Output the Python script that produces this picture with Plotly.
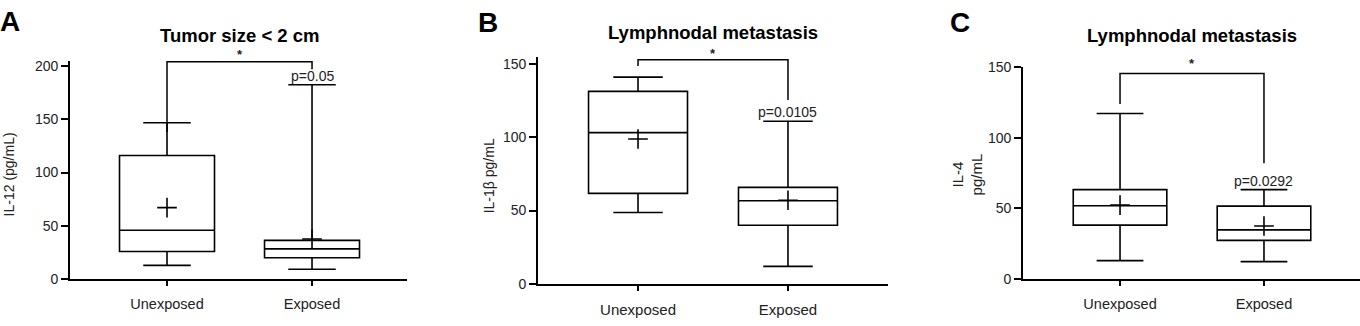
import plotly.graph_objects as go

categories = ["Unexposed", "Exposed"]

# Panel A: IL-12 (pg/mL), tumor size < 2 cm
a_q1 = [25.9, 19.9]
a_median = [45.8, 28.3]
a_q3 = [116.0, 36.3]
a_low = [12.8, 9.2]
a_high = [146.7, 182.4]
a_mean = [67.0, 37.5]
a_bracket = [138.0, 204.0, 197.0]  # left end, top, right end
a_p = "p=0.05"
a_ticks = [0, 50, 100, 150, 200]

# Panel B: IL-1β pg/mL, lymphnodal metastasis
b_q1 = [61.7, 40.0]
b_median = [103.2, 56.7]
b_q3 = [131.4, 65.8]
b_low = [48.7, 11.9]
b_high = [141.1, 111.0]
b_mean = [98.9, 57.0]
b_bracket = [148.7, 153.0, 125.5]
b_p = "p=0.0105"
b_ticks = [0, 50, 100, 150]

# Panel C: IL-4 pg/mL, lymphnodal metastasis
c_q1 = [38.2, 27.4]
c_median = [51.9, 34.8]
c_q3 = [63.3, 51.6]
c_low = [13.0, 12.3]
c_high = [117.2, 63.3]
c_mean = [52.3, 37.5]
c_bracket = [123.9, 145.5, 82.0]
c_p = "p=0.0292"
c_ticks = [0, 50, 100, 150]

W, H = 1360, 326
FONT = "Liberation Sans, Arial, sans-serif"
INK = "black"
GREY = "#222"

panels = [
    dict(name="A", title="Tumor size < 2 cm", ytitle="IL-12 (pg/mL)", ytfs=14, ytx=9, yty=175,
         q1=a_q1, med=a_median, q3=a_q3, lo=a_low, hi=a_high, mean=a_mean, br=a_bracket, p=a_p,
         ticks=a_ticks, yr=[0, 205], xd=[70, 407], yd=[285, 55.4], xr=[-0.669, 1.655], bw=0.655,
         lx=10, ly=14, tx=29, star=8, xfs=14.5),
    dict(name="B", title="Lymphnodal metastasis", ytitle="IL-1\u03b2 pg/mL", ytfs=14, ytx=489, yty=177,
         q1=b_q1, med=b_median, q3=b_q3, lo=b_low, hi=b_high, mean=b_mean, br=b_bracket, p=b_p,
         ticks=b_ticks, yr=[0, 155], xd=[538, 888], yd=[290, 51.3], xr=[-0.667, 1.667], bw=0.66,
         lx=488, ly=15, tx=26, star=7, xfs=15),
    dict(name="C", title="Lymphnodal metastasis", ytitle="IL-4<br>pg/mL", ytfs=15, ytx=967, yty=175,
         q1=c_q1, med=c_median, q3=c_q3, lo=c_low, hi=c_high, mean=c_mean, br=c_bracket, p=c_p,
         ticks=c_ticks, yr=[0, 150], xd=[1023, 1360], yd=[285, 62.3], xr=[-0.674, 1.667], bw=0.65,
         lx=960, ly=15, tx=29, star=11, xfs=14.5),
]

fig = go.Figure()
annotations = []
layout = {}

for i, pn in enumerate(panels):
    sfx = "" if i == 0 else str(i + 1)
    xa, ya = "x" + sfx, "y" + sfx
    fig.add_trace(go.Box(
        x=categories, q1=pn["q1"], median=pn["med"], q3=pn["q3"],
        lowerfence=pn["lo"], upperfence=pn["hi"],
        width=pn["bw"], whiskerwidth=0.5, fillcolor="white",
        line=dict(color=INK, width=1.6), boxpoints=False,
        xaxis=xa, yaxis=ya, showlegend=False, hoverinfo="skip"))
    fig.add_trace(go.Scatter(
        x=categories, y=pn["mean"], mode="markers",
        marker=dict(symbol="cross-thin-open", size=14, color=INK, line=dict(color=INK, width=1.6)),
        xaxis=xa, yaxis=ya, showlegend=False, hoverinfo="skip"))
    br = pn["br"]
    fig.add_trace(go.Scatter(
        x=[categories[0], categories[0], categories[1], categories[1]],
        y=[br[0], br[1], br[1], br[2]], mode="lines",
        line=dict(color=INK, width=1.5),
        xaxis=xa, yaxis=ya, showlegend=False, hoverinfo="skip"))

    layout["xaxis" + sfx] = dict(
        domain=[pn["xd"][0] / W, pn["xd"][1] / W], anchor=ya, type="category",
        categoryorder="array", categoryarray=categories,
        range=pn["xr"], showline=True, linecolor=INK, linewidth=1.6,
        ticks="outside", ticklen=5, tickwidth=1.6, tickcolor=INK,
        showgrid=False, zeroline=False, fixedrange=True, ticklabelstandoff=6,
        tickfont=dict(size=pn["xfs"], color=GREY, family=FONT))
    layout["yaxis" + sfx] = dict(
        domain=[(H - pn["yd"][0]) / H, (H - pn["yd"][1]) / H], anchor=xa,
        range=pn["yr"], tickvals=pn["ticks"], showline=True, linecolor=INK, linewidth=1.6,
        ticks="outside", ticklen=7, tickwidth=1.6, tickcolor=INK,
        showgrid=False, zeroline=False, fixedrange=True,
        tickfont=dict(size=14, color=GREY, family=FONT))

    annotations += [
        dict(text=pn["title"], xref=xa, x=0.5, yref="paper", y=1 - pn["tx"] / H,
             yanchor="middle", xanchor="center", showarrow=False,
             font=dict(size=18.5, color=INK, family=FONT, weight="bold")),
        dict(text=pn["name"], xref="paper", x=pn["lx"] / W, yref="paper", y=1 - pn["ly"] / H,
             xanchor="center", yanchor="middle", showarrow=False,
             font=dict(size=28, color=INK, family=FONT, weight="bold")),
        dict(text=pn["ytitle"], xref="paper", x=pn["ytx"] / W, yref="paper", y=1 - pn["yty"] / H,
             xanchor="center", yanchor="middle", textangle=-90, showarrow=False,
             font=dict(size=pn["ytfs"], color=GREY, family=FONT)),
        dict(text=pn["p"], xref=xa, x=categories[1], yref=ya, y=pn["hi"][1],
             xanchor="center", yanchor="bottom", showarrow=False, yshift=-1,
             font=dict(size=14, color=GREY, family=FONT)),
        dict(text="*", xref=xa, x=0.5, yref=ya, y=br[1],
             xanchor="center", yanchor="bottom", showarrow=False, yshift=pn["star"] - 10,
             font=dict(size=13, color=GREY, family=FONT, weight="bold")),
    ]

fig.update_layout(
    width=W, height=H, margin=dict(l=0, r=0, t=0, b=0),
    paper_bgcolor="white", plot_bgcolor="white",
    font=dict(family=FONT, color=INK),
    annotations=annotations, showlegend=False, **layout)

fig.write_html("out.html", config={"displayModeBar": False},
               post_script="document.body.style.margin='0';")
